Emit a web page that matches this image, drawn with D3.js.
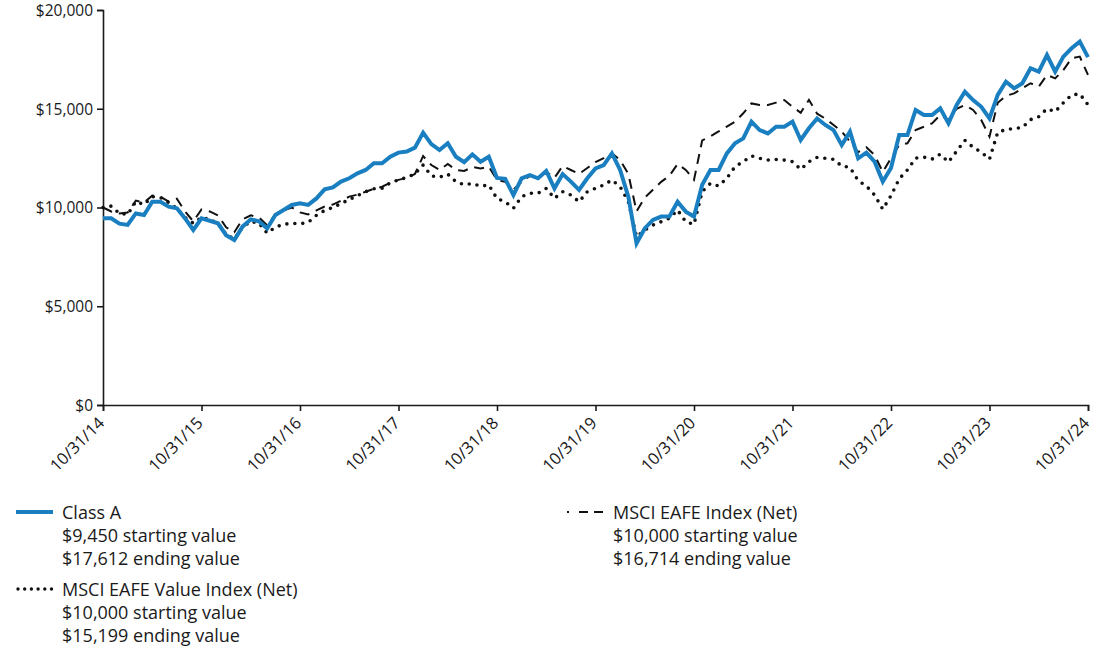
<!DOCTYPE html>
<html><head><meta charset="utf-8">
<script src="https://cdn.jsdelivr.net/npm/d3@7"></script>
<style>
body{margin:0;background:#fff;}
svg text{font-family:"Open Sans","Noto Sans",sans-serif;fill:#1a1a1a;}
</style></head>
<body><svg id="c" width="1100" height="653"></svg>
<script>
const tickLabels = ["10/31/14","10/31/15","10/31/16","10/31/17","10/31/18","10/31/19","10/31/20","10/31/21","10/31/22","10/31/23","10/31/24"];
const yTicks = [0,5000,10000,15000,20000];
const classA = [9450,9450,9180,9120,9700,9620,10290,10290,10040,9960,9450,8860,9450,9330,9200,8600,8350,9030,9400,9300,8940,9620,9870,10130,10210,10130,10460,10920,11020,11310,11480,11730,11900,12240,12240,12570,12780,12830,13030,13790,13210,12910,13250,12570,12290,12690,12320,12570,11500,11450,10630,11480,11640,11480,11850,10970,11690,11310,10890,11480,11980,12150,12740,11900,10550,8190,8940,9370,9540,9540,10290,9790,9540,11150,11900,11900,12740,13250,13500,14350,13920,13750,14090,14090,14350,13420,14010,14510,14180,13920,13160,13840,12490,12780,12320,11310,12000,13670,13670,14940,14680,14680,15020,14260,15190,15860,15440,15100,14510,15700,16370,16030,16290,17050,16880,17720,16880,17640,18060,18400,17612];
const eafe = [10000,9800,9700,9750,10350,10250,10600,10550,10300,10450,9800,9300,9900,9800,9600,9000,8750,9400,9600,9500,9100,9650,9850,10000,9750,9650,9850,10050,10150,10350,10550,10650,10800,10950,11050,11250,11400,11500,11700,12600,12150,11900,12200,11900,11850,12050,11980,12070,11400,11300,10900,11300,11600,11500,11800,11500,12100,11900,11700,12000,12300,12500,12750,12400,11700,9800,10500,10900,11300,11600,12200,11900,11400,13400,13600,13850,14100,14350,14770,15270,15190,15190,15310,15440,15100,14800,15450,14750,14500,14180,13840,13330,12800,13050,12650,11800,12500,13160,13250,13920,14090,14260,14680,14430,15000,15190,14940,14430,13590,15300,15650,15780,16030,16290,16120,16710,16540,16960,17550,17640,16714];
const eafeValue = [10000,10070,9700,9650,10300,10150,10550,10500,10250,9950,9500,9200,9500,9400,9200,8650,8400,9000,9300,9200,8700,9000,9150,9200,9170,9250,9600,9850,10000,10200,10400,10600,10800,10950,10970,11250,11400,11520,11700,12150,11600,11530,11690,11300,11150,11220,11080,11140,10450,10290,9960,10550,10720,10720,10970,10460,10800,10630,10290,10800,10970,11140,11390,11050,10300,8520,8860,9110,9280,9450,9870,9280,9150,10800,11220,11090,11480,12070,12320,12610,12490,12400,12430,12400,12320,11930,12320,12540,12490,12440,12100,12030,11360,11090,10630,9910,10600,11450,11900,12500,12550,12450,12700,12300,12850,13400,13050,12800,12450,13800,13950,14000,14050,14450,14600,15000,14850,15300,15700,15750,15199];
const legendA = ["Class A","$9,450 starting value","$17,612 ending value"];
const legendV = ["MSCI EAFE Value Index (Net)","$10,000 starting value","$15,199 ending value"];
const legendE = ["MSCI EAFE Index (Net)","$10,000 starting value","$16,714 ending value"];

const svg = d3.select("#c");
const mLeft=103, mRight=1088, mTop=10, mBottom=405;
const n = classA.length;
const x = d3.scaleLinear().domain([0,n-1]).range([mLeft,mRight]);
const y = d3.scaleLinear().domain([0,20000]).range([mBottom,mTop]);
const blue = "#1a7fc1";
const ink = "#1a1a1a";

// y axis
const yAxis = d3.axisLeft(y).tickValues(yTicks).tickSize(6).tickFormat(d=>"$"+d3.format(",")(d));
const gy = svg.append("g").attr("transform",`translate(${mLeft},0)`).call(yAxis);
gy.select(".domain").attr("stroke",ink).attr("stroke-width",1.6);
gy.selectAll(".tick line").attr("stroke",ink).attr("stroke-width",1.6);
gy.selectAll(".tick text").attr("font-size",15.5).attr("x",-10).attr("dy","0.35em").style("font-family",'"Open Sans",sans-serif').attr("fill",ink);

// x axis
const tickIdx = tickLabels.map((d,i)=>i*12);
const xAxis = d3.axisBottom(x).tickValues(tickIdx).tickSize(6).tickFormat((d,i)=>tickLabels[i]);
const gx = svg.append("g").attr("transform",`translate(0,${mBottom})`).call(xAxis);
gx.select(".domain").attr("stroke",ink).attr("stroke-width",1.6);
gx.selectAll(".tick line").attr("stroke",ink).attr("stroke-width",1.6);
gx.selectAll(".tick text").attr("font-size",16.5).style("font-family",'"Open Sans",sans-serif').attr("fill",ink)
  .attr("text-anchor","end").attr("dy",0).attr("y",0)
  .attr("transform","translate(2,19) rotate(-45)");

const line = d3.line().x((d,i)=>x(i)).y(d=>y(d));
svg.append("path").datum(eafeValue).attr("d",line).attr("fill","none").attr("stroke","#111")
  .attr("stroke-width",3.6).attr("stroke-linecap","round").attr("stroke-dasharray","0,8");
svg.append("path").datum(eafe).attr("d",line).attr("fill","none").attr("stroke","#111")
  .attr("stroke-width",2).attr("stroke-dasharray","10,7");
svg.append("path").datum(classA).attr("d",line).attr("fill","none").attr("stroke",blue)
  .attr("stroke-width",4).attr("stroke-linejoin","miter");

// legend
function legend(x0,y0,lines,style){
  const g = svg.append("g");
  const l = g.append("line").attr("x1",x0).attr("x2",x0+37).attr("y1",y0).attr("y2",y0);
  style(l);
  lines.forEach((t,i)=>{
    g.append("text").attr("x",x0+46).attr("y",y0+7+i*23).attr("font-size",18).text(t);
  });
}
legend(16,512,legendA,l=>l.attr("stroke",blue).attr("stroke-width",4));
legend(16,589,legendV,l=>l.attr("stroke","#111").attr("stroke-width",3.4).attr("stroke-linecap","round").attr("stroke-dasharray","0,6.7").attr("x1",18).attr("x2",52));
legend(567,512,legendE,l=>l.attr("stroke","#111").attr("stroke-width",2).attr("stroke-dasharray","2,10,9,6,9,6").attr("x2",604));
</script></body></html>
